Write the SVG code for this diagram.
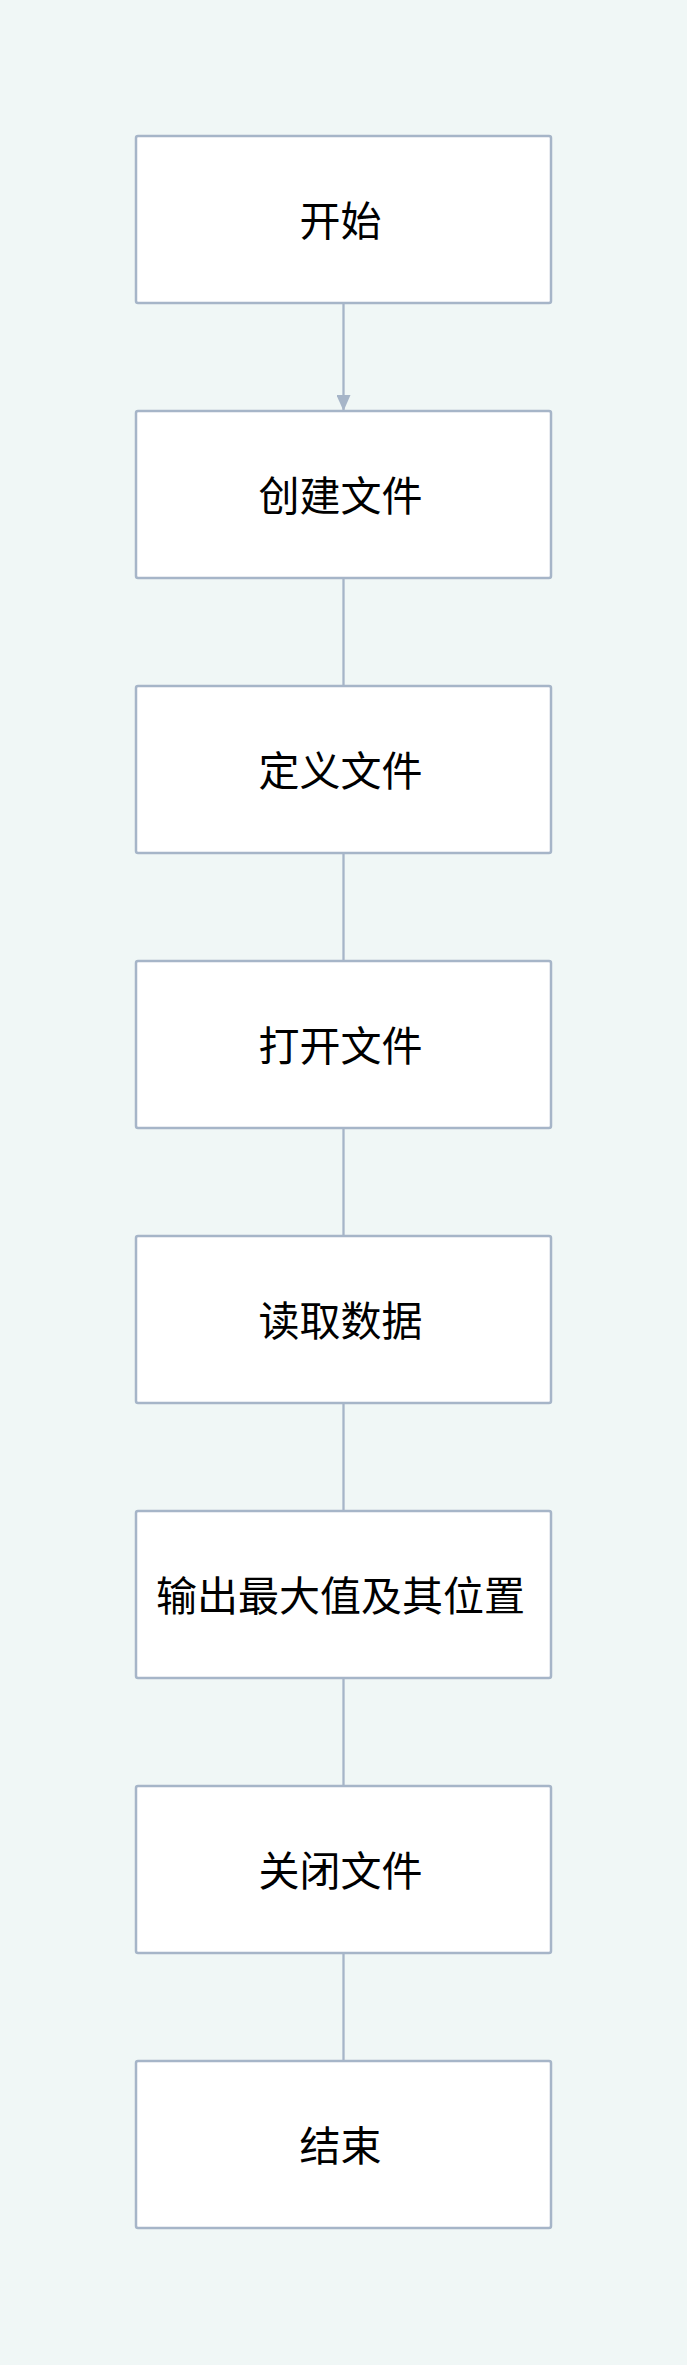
<svg xmlns="http://www.w3.org/2000/svg" width="687" height="2365" viewBox="0 0 687 2365">
<defs>
<style>
.box{fill:#ffffff;stroke:#a6b5c8;stroke-width:2.5}
.lbl{font-family:"Noto Sans CJK SC","Noto Sans",sans-serif;font-size:41px;fill:#000000;text-anchor:middle;dominant-baseline:central}
.edge{stroke:#a6b5c8;stroke-width:2.3;fill:none}
</style>
<marker id="arr" viewBox="0 0 16 14" refX="16" refY="7" markerWidth="16" markerHeight="14" markerUnits="userSpaceOnUse" orient="auto">
<path d="M0,0 L16,7 L0,14 Z" fill="#a6b5c8"/>
</marker>
</defs>
<rect width="687" height="2365" fill="#f0f7f6"/>
<g id="connectors">
<line class="edge" x1="343.5" y1="303" x2="343.5" y2="411" marker-end="url(#arr)"/>
<line class="edge" x1="343.5" y1="578" x2="343.5" y2="686"/>
<line class="edge" x1="343.5" y1="853" x2="343.5" y2="961"/>
<line class="edge" x1="343.5" y1="1128" x2="343.5" y2="1236"/>
<line class="edge" x1="343.5" y1="1403" x2="343.5" y2="1511"/>
<line class="edge" x1="343.5" y1="1678" x2="343.5" y2="1786"/>
<line class="edge" x1="343.5" y1="1953" x2="343.5" y2="2061"/>
</g>
<g id="n1"><rect class="box" x="136" y="136" width="415" height="167" rx="2"/><text class="lbl" x="340.5" y="218">开始</text></g>
<g id="n2"><rect class="box" x="136" y="411" width="415" height="167" rx="2"/><text class="lbl" x="340.5" y="493">创建文件</text></g>
<g id="n3"><rect class="box" x="136" y="686" width="415" height="167" rx="2"/><text class="lbl" x="340.5" y="768">定义文件</text></g>
<g id="n4"><rect class="box" x="136" y="961" width="415" height="167" rx="2"/><text class="lbl" x="340.5" y="1043">打开文件</text></g>
<g id="n5"><rect class="box" x="136" y="1236" width="415" height="167" rx="2"/><text class="lbl" x="340.5" y="1318">读取数据</text></g>
<g id="n6"><rect class="box" x="136" y="1511" width="415" height="167" rx="2"/><text class="lbl" x="340.5" y="1593">输出最大值及其位置</text></g>
<g id="n7"><rect class="box" x="136" y="1786" width="415" height="167" rx="2"/><text class="lbl" x="340.5" y="1868">关闭文件</text></g>
<g id="n8"><rect class="box" x="136" y="2061" width="415" height="167" rx="2"/><text class="lbl" x="340.5" y="2143">结束</text></g>
</svg>
